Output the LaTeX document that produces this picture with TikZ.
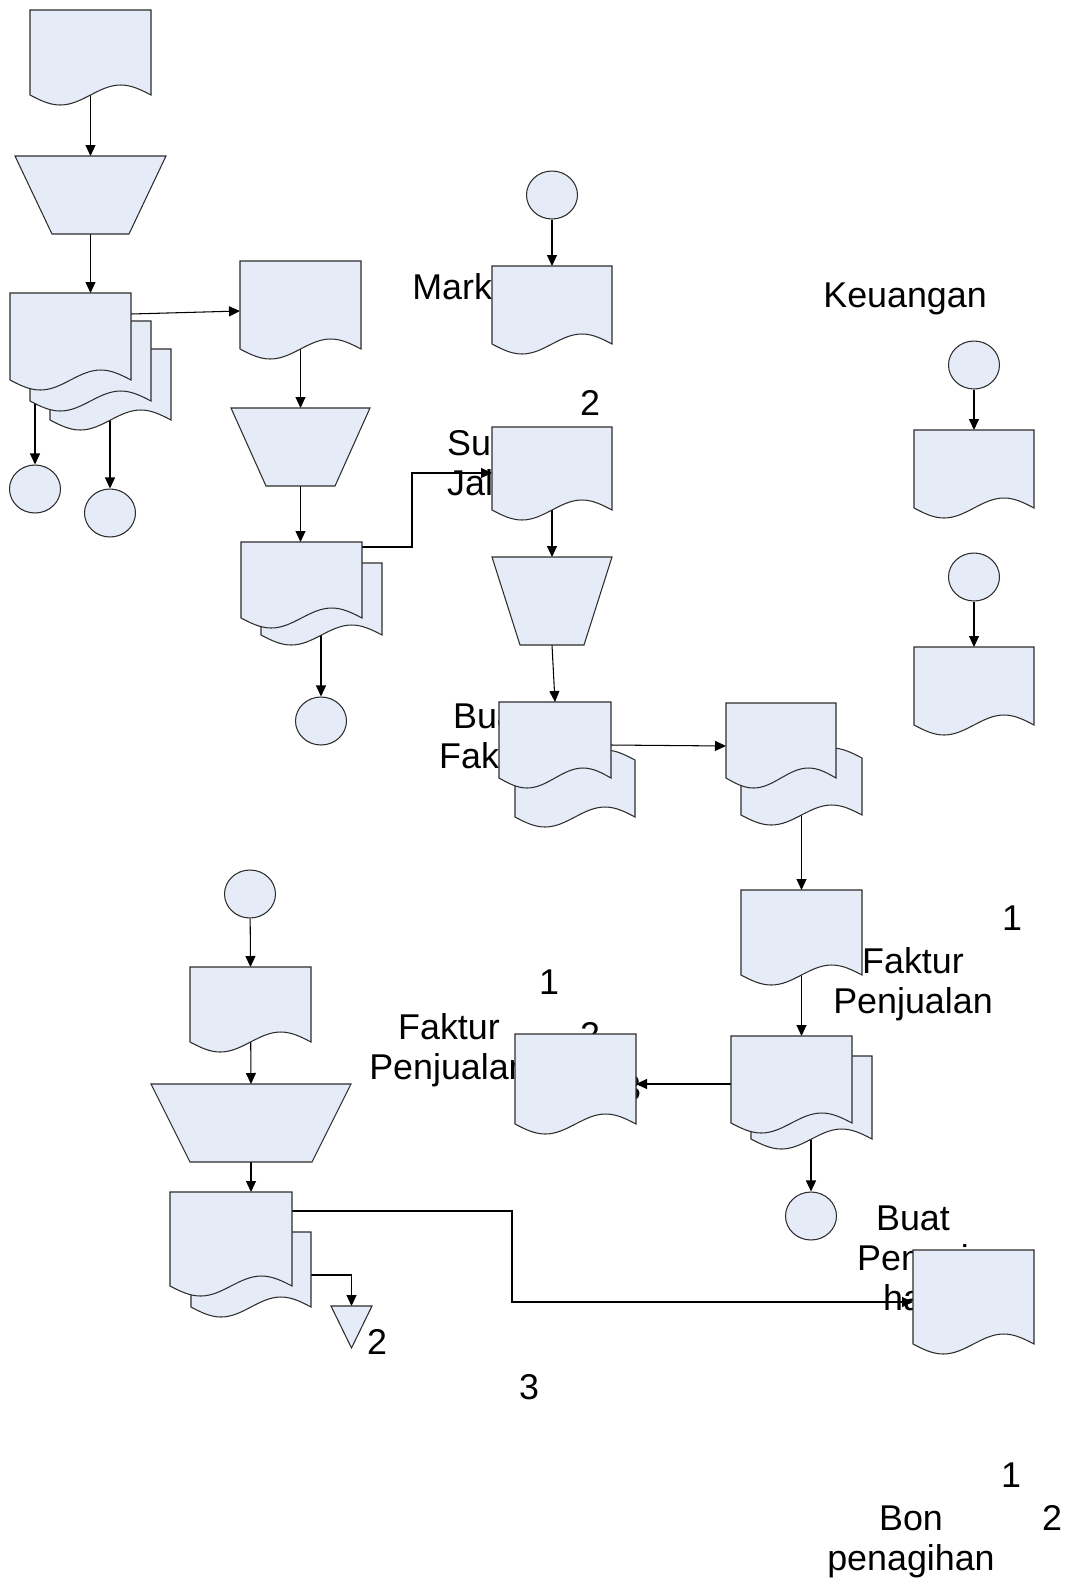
\documentclass[tikz,border=0pt]{standalone}
\usepackage{fontspec}
\setmainfont{Liberation Sans}
\usetikzlibrary{calc,shapes.geometric}
\usetikzlibrary{arrows.meta}

\definecolor{biru}{RGB}{230,236,247}
\definecolor{garis}{RGB}{45,45,45}
\newlength{\gel}\setlength{\gel}{0.2cm}

% feuille avec bas ondulé
\newcommand{\dok}[1]{%
  \filldraw[isi] let \p1=(#1.north west), \p2=(#1.south east) in
    (\p1) -- (\x2,\y1) -- (\x2,\y2+\gel)
    sin ({0.25*\x1+0.75*\x2},\y2+2*\gel) cos ({0.5*\x1+0.5*\x2},\y2+\gel)
    sin ({0.75*\x1+0.25*\x2},\y2) cos (\x1,\y2+\gel) -- cycle;}
% feuille ondulée en haut et en bas
\newcommand{\dokgel}[1]{%
  \filldraw[isi] let \p1=(#1.north west), \p2=(#1.south east) in
    (\p1) sin ({0.75*\x1+0.25*\x2},\y1-\gel) cos ({0.5*\x1+0.5*\x2},\y1)
    sin ({0.25*\x1+0.75*\x2},\y1+\gel) cos (\x2,\y1) -- (\x2,\y2+\gel)
    sin ({0.25*\x1+0.75*\x2},\y2+2*\gel) cos ({0.5*\x1+0.5*\x2},\y2+\gel)
    sin ({0.75*\x1+0.25*\x2},\y2) cos (\x1,\y2+\gel) -- cycle;}
% opération manuelle
\newcommand{\trap}[2]{%
  \filldraw[isi] (#1.north west) -- (#1.north east)
    -- ($(#1.south east)+(-#2,0)$) -- ($(#1.south west)+(#2,0)$) -- cycle;}

\begin{document}
\begin{tikzpicture}[x=0.02cm, y=-0.02cm, >={Triangle[length=0.22cm,width=0.2cm]},
  hal/.style 2 args={anchor=north west, inner sep=0pt, outer sep=0pt,
    minimum width=#1*0.02cm, minimum height=#2*0.02cm},
  isi/.style={draw=garis, fill=biru, line width=0.6pt},
  bulat/.style={ellipse, isi, minimum width=1.02cm, minimum height=0.96cm, inner sep=0pt},
  teks/.style={inner sep=0pt, align=center, font=\fontsize{20.4}{23}\selectfont},
  panah/.style={->, line width=0.6pt}]

  \useasboundingbox (0,0) rectangle (1069,1580);

  % formes
  \node[hal={121}{95}] (d1) at (30,10) {};
  \node[hal={151}{78}] (t1) at (15,156) {};
  \node[hal={121}{81}] (s1c) at (50,349) {};
  \node[hal={121}{90}] (s1b) at (30,321) {};
  \node[hal={121}{97}] (s1a) at (10,293) {};
  \node[bulat] (c1) at (35,489) {};
  \node[bulat] (c2) at (110,513) {};
  \node[hal={121}{98}] (d2) at (240,261) {};
  \node[hal={139}{78}] (t2) at (231,408) {};
  \node[hal={121}{82}] (s2b) at (261,563) {};
  \node[hal={121}{86}] (s2a) at (241,542) {};
  \node[bulat] (c3) at (321,721) {};
  \node[bulat] (c4) at (552,195) {};
  \node[hal={120}{88}] (d3a) at (492,266) {};
  \node[hal={120}{93}] (d3) at (492,427) {};
  \node[hal={120}{88}] (t3) at (492,557) {};
  \node[hal={120}{67}] (s3b) at (515,760) {};
  \node[hal={112}{86}] (s3a) at (499,702) {};
  \node[hal={121}{67}] (s4b) at (741,758) {};
  \node[hal={110}{85}] (s4a) at (726,703) {};
  \node[hal={121}{95}] (d5) at (741,890) {};
  \node[hal={121}{93}] (s6b) at (751,1056) {};
  \node[hal={121}{97}] (s6a) at (731,1036) {};
  \node[hal={121}{100}] (d6) at (515,1034) {};
  \node[bulat] (c8) at (811,1216) {};
  \node[bulat] (c5) at (974,365) {};
  \node[bulat] (c6) at (974,577) {};
  \node[hal={120}{88}] (d7a) at (914,430) {};
  \node[hal={120}{88}] (d7b) at (914,647) {};
  \node[hal={121}{104}] (d8) at (913,1250) {};
  \node[bulat] (c7) at (250,894) {};
  \node[hal={121}{85}] (d9) at (190,967) {};
  \node[hal={200}{78}] (t4) at (151,1084) {};
  \node[hal={120}{85}] (s5b) at (191,1232) {};
  \node[hal={122}{104}] (s5a) at (170,1192) {};
  \node[hal={41}{42}] (tri) at (331,1306) {};

  % textes
  \node[teks, anchor=north west] (tMark) at (412,273) {Marketing};
  \node[teks, anchor=north west] (tKeu) at (823,282) {Keuangan};
  \node[teks, anchor=north] (n2a) at (590,390) {2};
  \node[teks, anchor=north] (tSJ) at (490,430) {Surat\\Jalan};
  \node[teks, anchor=north] (tBF) at (490,703) {Buat\\Faktur};
  \node[teks, anchor=north] (n1b) at (1012,905) {1};
  \node[teks, anchor=north] (tFP1) at (913,947) {Faktur\\Penjualan};
  \node[teks, anchor=north] (n1c) at (549,969) {1};
  \node[teks, anchor=north] (n2c) at (590,1022) {2};
  \node[teks, anchor=north] (n3c) at (631,1075) {3};
  \node[teks, anchor=north] (tFP2) at (449,1013) {Faktur\\Penjualan};
  \node[teks, anchor=north] (tBP) at (913,1205) {Buat\\Penagi\\han};
  \node[teks, anchor=north] (n2d) at (377,1329) {2};
  \node[teks, anchor=north] (n3d) at (529,1374) {3};
  \node[teks, anchor=north] (n1e) at (1011,1462) {1};
  \node[teks, anchor=north] (tBon) at (911,1505) {Bon\\penagihan};
  \node[teks, anchor=north] (n2e) at (1052,1505) {2};

  % flèches
  \path[panah] (d1.center) edge (t1.north)
    (t1.south) edge (t1.south |- s1a.north)
    ($(s1a.north east)+(0,21)$) edge ($(d2.north west)+(0,50)$)
    (s1a.center -| c1) edge (c1.north)
    (s1c.center -| c2) edge (c2.north)
    (d2.center) edge (t2.north)
    (t2.south) edge (t2.south |- s2a.north)
    (s2b.center -| c3) edge (c3.north)
    (c4) edge (d3a.north)
    (d3.center) edge (t3.north)
    (t3.south) edge (s3a.north)
    ($(s3a.north east)+(0,43)$) edge ($(s4a.north west)+(0,43)$)
    (s4b.center) edge (d5.north)
    (d5.center) edge (d5.center |- s6a.north)
    ($(s6a.north west)+(0,48)$) edge ($(d6.north east)+(0,50)$)
    (s6b.center -| c8) edge (c8.north)
    (c5) edge (d7a.north)
    (c6) edge (d7b.north)
    (c7) edge (d9.north)
    (d9.center) edge (t4.north)
    (t4.south) edge (t4.south |- s5a.north);
  \draw[panah] ($(s2a.north east)+(0,5)$) -- ++(50,0) |- ($(d3.north west)+(0,46)$);
  \draw[panah] ($(s5a.north east)+(0,19)$) -- ++(220,0) |- ($(d8.north west)+(0,52)$);
  \draw[panah] ($(s5b.north east)+(0,43)$) -| (tri.north);

  % contours
  \dok{d1} \trap{t1}{37}
  \dok{s1c} \dok{s1b} \dok{s1a}
  \dok{d2} \trap{t2}{35}
  \dok{s2b} \dok{s2a}
  \dok{d3a} \dok{d3} \trap{t3}{28}
  \dokgel{s3b} \dok{s3a}
  \dokgel{s4b} \dok{s4a}
  \dok{d5}
  \dok{s6b} \dok{s6a}
  \dok{d6}
  \dok{d7a} \dok{d7b}
  \dok{d8}
  \dok{d9} \trap{t4}{39}
  \dok{s5b} \dok{s5a}
  \filldraw[isi] (tri.north west) -- (tri.north east) -- (tri.south) -- cycle;

\end{tikzpicture}
\end{document}
